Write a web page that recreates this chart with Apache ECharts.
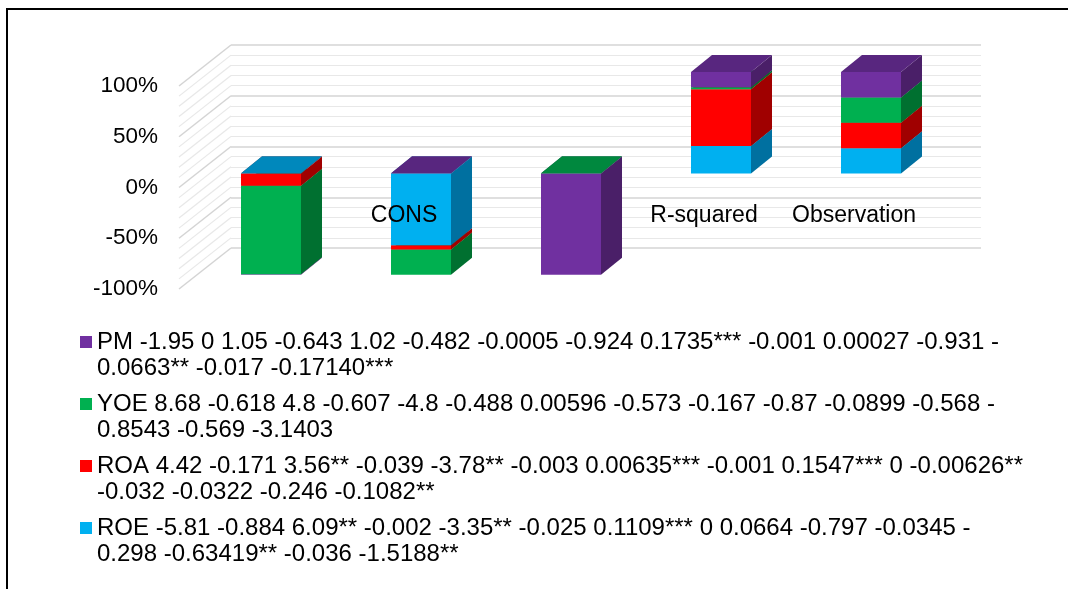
<!DOCTYPE html>
<html>
<head>
<meta charset="utf-8">
<script src="https://cdn.jsdelivr.net/npm/echarts@6/dist/echarts.min.js"></script>
<style>
  html, body { margin: 0; padding: 0; background: #fff; }
  #chart { width: 1068px; height: 589px; }
</style>
</head>
<body>
<div id="chart"></div>
<script>
// categories and series (share of each column, sign = above / below zero)
var categories = ['', 'CONS', '', 'R-squared', 'Observation'];
var roe = [0.3, -71, 0, 27, 25];
var roa = [-12, -4, 0, 56, 25];
var yoe = [-87.5, -25, 0.3, 2, 25];
var pm  = [-0.5, 0.3, -100, 15, 25];
var gridValues = [-100, -90, -80, -70, -60, -50, -40, -30, -20, -10, 0,
                  10, 20, 30, 40, 50, 60, 70, 80, 90, 100];

var names = [
  'ROE -5.81 -0.884 6.09** -0.002 -3.35** -0.025 0.1109*** 0 0.0664 -0.797 -0.0345 -\n0.298 -0.63419** -0.036 -1.5188**',
  'ROA 4.42 -0.171 3.56** -0.039 -3.78** -0.003 0.00635*** -0.001 0.1547*** 0 -0.00626**\n-0.032 -0.0322 -0.246 -0.1082**',
  'YOE 8.68 -0.618 4.8 -0.607 -4.8 -0.488 0.00596 -0.573 -0.167 -0.87 -0.0899 -0.568 -\n0.8543 -0.569 -3.1403',
  'PM -1.95 0 1.05 -0.643 1.02 -0.482 -0.0005 -0.924 0.1735*** -0.001 0.00027 -0.931 -\n0.0663** -0.017 -0.17140***'
];
var values = [roe, roa, yoe, pm];
var faces = [
  { front: '#00B0F0', side: '#0070A0', top: '#0088BC' },
  { front: '#FF0000', side: '#A00000', top: '#C80000' },
  { front: '#00B050', side: '#007030', top: '#00883E' },
  { front: '#7030A0', side: '#4A1F68', top: '#58267F' }
];

var FONT = 'Liberation Sans, Arial, Helvetica, sans-serif';
var COL_DX = 17, COL_DY = -14;   // column plane offset from the front plane
var DEPTH_X = 21, DEPTH_Y = -17; // depth of a column
var WALL_DX = 52, WALL_DY = -41; // back wall offset

// 100% stacking, positives up from zero, negatives down
function stackData() {
  var out = values.map(function () { return []; });
  for (var c = 0; c < categories.length; c++) {
    var total = 0;
    values.forEach(function (v) { total += Math.abs(v[c]); });
    var pos = 0, neg = 0;
    values.forEach(function (v, s) {
      var p = total ? v[c] / total * 100 : 0;
      if (p >= 0) { out[s].push([c, pos, pos + p]); pos += p; }
      else { out[s].push([c, neg, neg + p]); neg += p; }
    });
  }
  return out;
}
var stacked = stackData();

function boxRenderer(s) {
  return function (params, api) {
    var c = api.value(0), a = api.value(1), b = api.value(2);
    if (a === b) return null;
    var pa = api.coord([c, a]), pb = api.coord([c, b]);
    var w = api.size([1, 0])[0] * 0.4;
    var x0 = pa[0] - w / 2 + COL_DX, x1 = x0 + w;
    var yLow = Math.max(pa[1], pb[1]) + COL_DY;
    var yHigh = Math.min(pa[1], pb[1]) + COL_DY;
    var z2 = 200 + (a + b) / 2;
    var f = faces[s];
    return {
      type: 'group',
      children: [
        { type: 'polygon', z2: z2, shape: { points: [[x0, yHigh], [x1, yHigh], [x1, yLow], [x0, yLow]] },
          style: { fill: f.front } },
        { type: 'polygon', z2: z2, shape: { points: [[x1, yHigh], [x1 + DEPTH_X, yHigh + DEPTH_Y], [x1 + DEPTH_X, yLow + DEPTH_Y], [x1, yLow]] },
          style: { fill: f.side } },
        { type: 'polygon', z2: z2, shape: { points: [[x0, yHigh], [x1, yHigh], [x1 + DEPTH_X, yHigh + DEPTH_Y], [x0 + DEPTH_X, yHigh + DEPTH_Y]] },
          style: { fill: f.top } }
      ]
    };
  };
}

var series = values.map(function (v, s) {
  return {
    name: names[s],
    type: 'custom',
    xAxisIndex: 0,
    yAxisIndex: 0,
    itemStyle: { color: faces[s].front },
    renderItem: boxRenderer(s),
    encode: { x: 0, y: [1, 2] },
    data: stacked[s],
    silent: true
  };
});

// side wall lines joining the front plane to the back wall
series.push({
  type: 'custom',
  xAxisIndex: 0,
  yAxisIndex: 0,
  z: 1,
  silent: true,
  encode: { x: 0, y: 1 },
  data: gridValues.map(function (g) { return [0, g]; }),
  renderItem: function (params, api) {
    var g = api.value(1);
    var y = api.coord([0, g])[1];
    var x = params.coordSys.x;
    var major = g % 50 === 0;
    return {
      type: 'line',
      shape: { x1: x, y1: y, x2: x + WALL_DX, y2: y + WALL_DY },
      style: { stroke: major ? '#d4d4d4' : '#e8e8e8', lineWidth: major ? 1.5 : 1.2 }
    };
  }
});

var chart = echarts.init(document.getElementById('chart'));
chart.setOption({
  backgroundColor: '#fff',
  animation: false,
  textStyle: { fontFamily: FONT },
  graphic: [{
    type: 'polyline',
    shape: { points: [[7, 589], [7, 9], [1068, 9]] },
    style: { stroke: '#000', lineWidth: 2, fill: null }
  }],
  grid: [
    { left: 179, right: 139, top: 86, bottom: 300 },
    { left: 231, right: 87, top: 45, bottom: 341 }
  ],
  xAxis: [{
    type: 'category',
    gridIndex: 0,
    data: categories,
    z: 10,
    // labels sit next to the 0% level, as in the original
    offset: -101.5,
    axisLine: { show: false, onZero: false },
    axisTick: { show: false },
    axisLabel: { interval: 0, margin: 17, fontSize: 23, color: '#000', fontFamily: FONT }
  }, {
    type: 'category',
    gridIndex: 1,
    data: categories,
    show: false
  }],
  yAxis: [{
    type: 'value',
    gridIndex: 0,
    min: -100,
    max: 100,
    interval: 50,
    axisLine: { show: false },
    axisTick: { show: false },
    splitLine: { show: false },
    axisLabel: { margin: 21, fontSize: 22.5, color: '#000', fontFamily: FONT, formatter: '{value}%' }
  }, {
    type: 'value',
    gridIndex: 1,
    min: -100,
    max: 100,
    interval: 50,
    axisLine: { show: false },
    axisTick: { show: false },
    axisLabel: { show: false },
    splitLine: { show: true, lineStyle: { color: '#d4d4d4', width: 1.5 } },
    minorTick: { show: false, splitNumber: 5 },
    minorSplitLine: { show: true, lineStyle: { color: '#e8e8e8', width: 1.2 } }
  }],
  legend: {
    orient: 'vertical',
    left: 80,
    top: 303,
    padding: 0,
    itemWidth: 12,
    itemHeight: 12,
    itemGap: -16,
    icon: 'rect',
    selectedMode: false,
    data: [names[3], names[2], names[1], names[0]],
    // blank first line keeps the marker level with the first text line
    formatter: function (n) { return '\n' + n; },
    textStyle: { fontSize: 24, lineHeight: 26, color: '#000', fontFamily: FONT }
  },
  series: series
});
window.addEventListener('resize', function () { chart.resize(); });
</script>
</body>
</html>
